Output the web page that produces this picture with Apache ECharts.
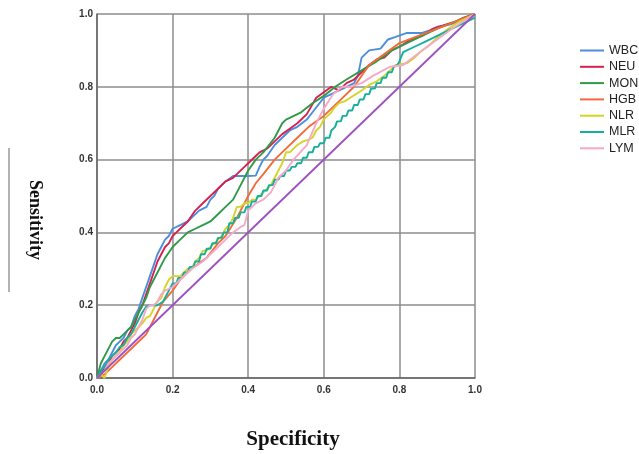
<!DOCTYPE html>
<html>
<head>
<meta charset="utf-8">
<title>ROC</title>
<script src="https://cdn.jsdelivr.net/npm/echarts@6/dist/echarts.min.js"></script>
<style>
    html, body { margin: 0; padding: 0; background: #fff; }
    #roc { width: 639px; height: 454px; }
</style>
</head>
<body>
<div id="roc"></div>
<script>
// 刻度.
let tickValues = [0, 0.2, 0.4, 0.6, 0.8, 1.0];

// 图例名称.
let names = ['WBC', 'NEU', 'MON', 'HGB', 'NLR', 'MLR', 'LYM'];

// 各指标 ROC 曲线 [1 - 特异度, 灵敏度].
let wbc = [[0,0],[0.01,0.02],[0.02,0.04],[0.03,0.05],[0.04,0.07],[0.05,0.09],[0.06,0.1],[0.07,0.11],[0.08,0.13],[0.09,0.14],[0.1,0.17],[0.11,0.19],[0.12,0.22],[0.13,0.25],[0.14,0.28],[0.15,0.31],[0.16,0.34],[0.17,0.36],[0.18,0.38],[0.19,0.39],[0.2,0.41],[0.22,0.42],[0.24,0.43],[0.25,0.44],[0.27,0.46],[0.29,0.47],[0.3,0.49],[0.31,0.5],[0.32,0.52],[0.34,0.54],[0.36,0.555],[0.38,0.555],[0.4,0.555],[0.42,0.556],[0.43,0.58],[0.44,0.6],[0.45,0.61],[0.47,0.64],[0.49,0.66],[0.51,0.68],[0.53,0.69],[0.555,0.71],[0.57,0.73],[0.6,0.77],[0.62,0.78],[0.64,0.79],[0.66,0.8],[0.68,0.81],[0.69,0.83],[0.7,0.88],[0.72,0.9],[0.75,0.905],[0.77,0.93],[0.79,0.937],[0.82,0.948],[0.86,0.948],[0.88,0.955],[0.9,0.965],[0.93,0.97],[0.96,0.98],[0.98,0.99],[1,1]];
let neu = [[0,0],[0.01,0.01],[0.02,0.03],[0.03,0.04],[0.04,0.06],[0.05,0.07],[0.06,0.08],[0.07,0.1],[0.08,0.11],[0.09,0.13],[0.1,0.15],[0.11,0.18],[0.12,0.2],[0.13,0.23],[0.14,0.26],[0.15,0.29],[0.16,0.32],[0.17,0.34],[0.18,0.36],[0.19,0.37],[0.2,0.39],[0.21,0.4],[0.22,0.41],[0.24,0.43],[0.26,0.46],[0.28,0.48],[0.3,0.5],[0.32,0.52],[0.34,0.54],[0.36,0.55],[0.37,0.56],[0.39,0.58],[0.4,0.59],[0.42,0.61],[0.43,0.62],[0.45,0.63],[0.47,0.65],[0.49,0.67],[0.51,0.685],[0.53,0.7],[0.555,0.725],[0.58,0.77],[0.6,0.785],[0.62,0.8],[0.64,0.79],[0.66,0.81],[0.68,0.82],[0.7,0.84],[0.72,0.86],[0.74,0.875],[0.76,0.88],[0.78,0.9],[0.8,0.91],[0.83,0.93],[0.86,0.94],[0.89,0.96],[0.92,0.97],[0.95,0.98],[0.97,0.99],[1,1]];
let mon = [[0,0],[0.005,0.02],[0.01,0.04],[0.02,0.06],[0.03,0.08],[0.04,0.1],[0.05,0.11],[0.06,0.11],[0.07,0.12],[0.08,0.13],[0.09,0.14],[0.1,0.16],[0.11,0.18],[0.12,0.2],[0.13,0.22],[0.14,0.25],[0.15,0.27],[0.16,0.29],[0.17,0.31],[0.18,0.33],[0.19,0.345],[0.2,0.36],[0.22,0.38],[0.24,0.4],[0.26,0.41],[0.28,0.42],[0.3,0.43],[0.32,0.45],[0.34,0.47],[0.36,0.49],[0.38,0.53],[0.4,0.57],[0.42,0.6],[0.44,0.62],[0.47,0.66],[0.49,0.7],[0.5,0.71],[0.54,0.73],[0.57,0.755],[0.6,0.775],[0.63,0.8],[0.66,0.82],[0.7,0.845],[0.74,0.87],[0.78,0.9],[0.81,0.915],[0.85,0.935],[0.9,0.96],[0.95,0.98],[1,1]];
let hgb = [[0,0],[0.02,0.01],[0.04,0.03],[0.06,0.05],[0.08,0.07],[0.1,0.09],[0.12,0.11],[0.13,0.12],[0.15,0.16],[0.175,0.21],[0.2,0.24],[0.22,0.27],[0.25,0.3],[0.29,0.33],[0.32,0.37],[0.34,0.39],[0.37,0.44],[0.4,0.5],[0.42,0.535],[0.44,0.56],[0.47,0.6],[0.5,0.63],[0.53,0.66],[0.56,0.69],[0.6,0.72],[0.64,0.76],[0.68,0.8],[0.72,0.86],[0.76,0.89],[0.8,0.92],[0.85,0.94],[0.9,0.96],[0.95,0.98],[1,1]];
let nlr = [[0,0],[0.01,0.01],[0.02,0.0],[0.03,0.03],[0.04,0.05],[0.05,0.06],[0.06,0.07],[0.07,0.09],[0.08,0.1],[0.09,0.12],[0.1,0.13],[0.11,0.14],[0.12,0.15],[0.13,0.165],[0.14,0.17],[0.15,0.19],[0.16,0.21],[0.17,0.22],[0.18,0.25],[0.19,0.27],[0.2,0.28],[0.22,0.28],[0.23,0.29],[0.24,0.3],[0.25,0.3],[0.26,0.32],[0.27,0.33],[0.28,0.35],[0.29,0.35],[0.3,0.36],[0.31,0.37],[0.32,0.38],[0.33,0.39],[0.34,0.41],[0.35,0.42],[0.36,0.44],[0.37,0.47],[0.38,0.47],[0.39,0.48],[0.4,0.48],[0.41,0.49],[0.42,0.49],[0.43,0.5],[0.44,0.51],[0.45,0.52],[0.46,0.53],[0.47,0.55],[0.48,0.57],[0.49,0.59],[0.5,0.62],[0.51,0.62],[0.52,0.63],[0.53,0.64],[0.545,0.65],[0.56,0.655],[0.57,0.66],[0.58,0.68],[0.59,0.69],[0.6,0.71],[0.61,0.72],[0.62,0.73],[0.63,0.745],[0.64,0.755],[0.655,0.76],[0.67,0.77],[0.685,0.78],[0.7,0.79],[0.72,0.805],[0.74,0.815],[0.76,0.83],[0.78,0.85],[0.79,0.86],[0.82,0.865],[0.84,0.88],[0.86,0.9],[0.88,0.915],[0.9,0.935],[0.93,0.96],[0.96,0.98],[1,1]];
let mlr = [[0,0],[0.01,0.02],[0.02,0.03],[0.03,0.05],[0.04,0.06],[0.05,0.07],[0.06,0.085],[0.07,0.09],[0.08,0.11],[0.09,0.12],[0.1,0.14],[0.11,0.16],[0.12,0.18],[0.13,0.196],[0.14,0.2],[0.16,0.2],[0.175,0.21],[0.19,0.24],[0.2,0.26],[0.21,0.26],[0.215,0.275],[0.225,0.275],[0.23,0.29],[0.24,0.29],[0.245,0.305],[0.255,0.305],[0.26,0.32],[0.27,0.32],[0.275,0.34],[0.285,0.34],[0.29,0.355],[0.3,0.355],[0.305,0.37],[0.315,0.37],[0.32,0.385],[0.33,0.385],[0.335,0.4],[0.345,0.4],[0.35,0.425],[0.36,0.425],[0.365,0.44],[0.375,0.44],[0.38,0.455],[0.39,0.455],[0.395,0.47],[0.405,0.47],[0.41,0.485],[0.42,0.485],[0.425,0.5],[0.435,0.5],[0.44,0.515],[0.45,0.515],[0.455,0.53],[0.465,0.53],[0.47,0.545],[0.48,0.545],[0.485,0.555],[0.495,0.555],[0.5,0.57],[0.51,0.57],[0.515,0.58],[0.525,0.58],[0.53,0.59],[0.54,0.59],[0.545,0.605],[0.555,0.605],[0.56,0.62],[0.57,0.62],[0.575,0.635],[0.585,0.635],[0.59,0.645],[0.6,0.645],[0.605,0.66],[0.615,0.66],[0.62,0.68],[0.63,0.69],[0.635,0.705],[0.645,0.705],[0.65,0.72],[0.66,0.72],[0.665,0.735],[0.675,0.735],[0.68,0.75],[0.69,0.75],[0.695,0.765],[0.705,0.765],[0.71,0.78],[0.72,0.78],[0.725,0.795],[0.735,0.795],[0.74,0.81],[0.75,0.81],[0.755,0.825],[0.765,0.825],[0.77,0.84],[0.78,0.84],[0.785,0.855],[0.795,0.86],[0.8,0.87],[0.81,0.895],[0.84,0.91],[0.87,0.925],[0.9,0.94],[0.93,0.955],[0.96,0.97],[0.98,0.98],[1,0.99]];
let lym = [[0,0],[0.01,0.01],[0.02,0.02],[0.03,0.04],[0.04,0.05],[0.05,0.06],[0.06,0.07],[0.07,0.08],[0.08,0.09],[0.09,0.11],[0.1,0.12],[0.11,0.14],[0.12,0.16],[0.13,0.19],[0.14,0.2],[0.15,0.2],[0.16,0.21],[0.17,0.23],[0.18,0.24],[0.2,0.25],[0.22,0.27],[0.25,0.3],[0.28,0.32],[0.3,0.34],[0.32,0.36],[0.34,0.38],[0.36,0.4],[0.38,0.415],[0.39,0.42],[0.4,0.46],[0.42,0.48],[0.44,0.49],[0.46,0.51],[0.48,0.55],[0.5,0.57],[0.52,0.6],[0.555,0.64],[0.58,0.7],[0.6,0.74],[0.625,0.78],[0.65,0.8],[0.67,0.8],[0.7,0.81],[0.73,0.83],[0.775,0.855],[0.81,0.86],[0.86,0.9],[0.9,0.93],[0.94,0.96],[0.97,0.98],[1,1]];

// 参考线.
let refLine = [[0,0],[1,1]];

let curves = [wbc, neu, mon, hgb, nlr, mlr, lym];
let colors = ['#4a8fdc', '#d6204f', '#2f9a48', '#f26b3a', '#d4d42a', '#14b09c', '#f5a9c8'];

let myChart = echarts.init(document.getElementById('roc'), null, {renderer: 'canvas'});

let series = curves.map((d, i) => ({
    name: names[i],
    type: 'line',
    data: d,
    symbol: 'none',
    silent: true,
    animation: false,
    lineStyle: {color: colors[i], width: 1.9},
    itemStyle: {color: colors[i]}
}));
series.push({
    name: 'ref',
    type: 'line',
    data: refLine,
    symbol: 'none',
    silent: true,
    animation: false,
    lineStyle: {color: '#9e50c0', width: 1.8}
});

let axisCommon = {
    type: 'value',
    min: tickValues[0],
    max: tickValues[tickValues.length - 1],
    interval: 0.2,
    axisLine: {show: true, lineStyle: {color: '#666', width: 1.5}},
    axisTick: {show: false},
    splitLine: {show: true, lineStyle: {color: '#8c8c8c', width: 1.5}},
    axisLabel: {
        color: '#333',
        fontSize: 10,
        fontWeight: 'bold',
        fontFamily: 'Liberation Sans, Arial, sans-serif',
        formatter: (v) => v.toFixed(1)
    }
};

let option = {
    backgroundColor: '#fff',
    animation: false,
    grid: {left: 97, right: 164, top: 14, bottom: 76},
    xAxis: Object.assign({}, axisCommon, {
        axisLabel: Object.assign({}, axisCommon.axisLabel, {margin: 7})
    }),
    yAxis: Object.assign({}, axisCommon, {
        axisLabel: Object.assign({}, axisCommon.axisLabel, {margin: 4})
    }),
    legend: {
        data: names,
        orient: 'vertical',
        left: 580,
        top: 44,
        padding: 0,
        icon: 'rect',
        itemWidth: 24,
        itemHeight: 2,
        itemGap: 3.3,
        selectedMode: false,
        textStyle: {
            color: '#222',
            fontSize: 12.5,
            lineHeight: 13,
            fontFamily: 'Liberation Sans, Arial, sans-serif'
        }
    },
    graphic: [
        // 纵轴标题.
        {
            type: 'text',
            x: 35,
            y: 220,
            rotation: -Math.PI / 2,
            style: {
                text: 'Sensitivity',
                fill: '#111',
                font: 'bold 18px "Liberation Serif", serif',
                textAlign: 'center',
                textVerticalAlign: 'middle'
            }
        },
        {
            type: 'line',
            shape: {x1: 9, y1: 148, x2: 9, y2: 292},
            style: {stroke: '#666', lineWidth: 1}
        },
        // 横轴标题.
        {
            type: 'text',
            x: 293,
            y: 440,
            style: {
                text: 'Specificity',
                fill: '#111',
                font: 'bold 21px "Liberation Serif", serif',
                textAlign: 'center',
                textVerticalAlign: 'middle'
            }
        }
    ],
    series: series
};

myChart.setOption(option);

window.addEventListener('resize', function () {
    myChart.resize();
});
</script>
</body>
</html>
